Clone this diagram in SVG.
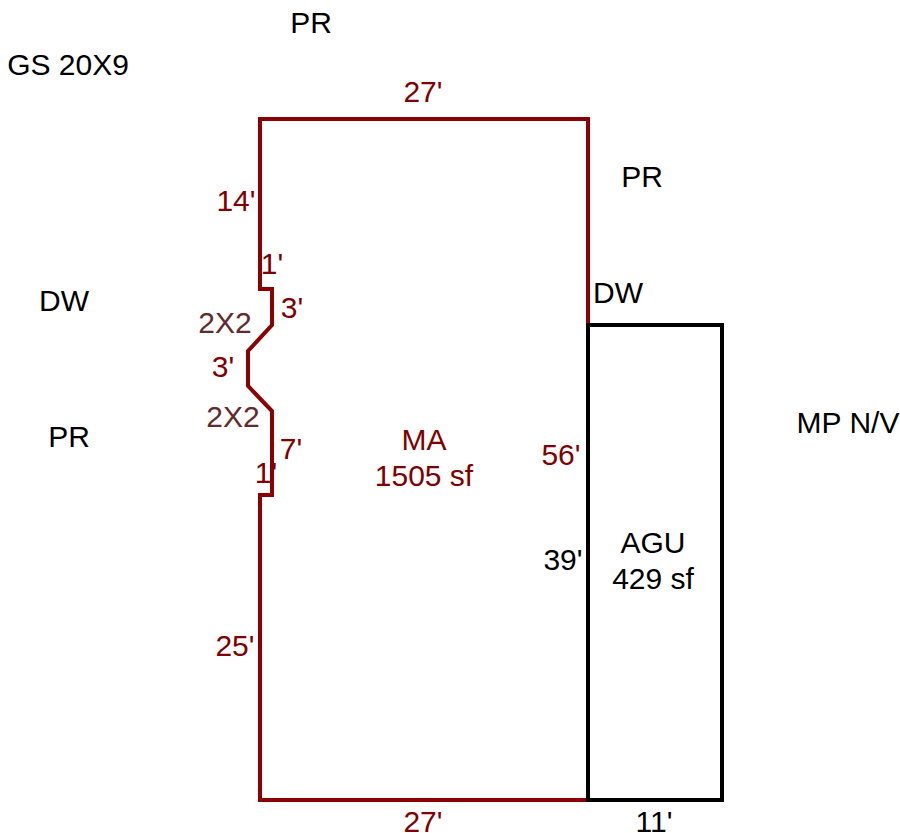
<svg xmlns="http://www.w3.org/2000/svg" width="900" height="833" viewBox="0 0 900 833">
<style>
text{font-family:"Liberation Sans",Arial,sans-serif;font-size:30px;text-anchor:middle}
.k{fill:#000}.r{fill:#800000}.b{fill:#632b2b}
.ln{fill:none;stroke-width:4}
</style>
<rect width="900" height="833" fill="#fff"/>
<g id="connectors">
<path id="ma" class="ln" stroke="#8b0000" d="M588 325V119H260V289H272V325L248 351V386L272 411V495H260V800H588"/>
<path id="agu" class="ln" stroke="#000" d="M588 325H722V800H588Z"/>
</g>
<g id="labels">
<text class="k" x="311" y="33">PR</text>
<text class="k" x="68" y="75">GS 20X9</text>
<text class="r" x="423" y="102">27'</text>
<text class="k" x="642" y="187">PR</text>
<text class="r" x="236" y="211">14'</text>
<text class="r" x="272" y="274">1'</text>
<text class="k" x="64" y="311">DW</text>
<text class="k" x="618" y="303">DW</text>
<text class="r" x="292" y="318">3'</text>
<text class="b" x="225" y="333">2X2</text>
<text class="r" x="223" y="377">3'</text>
<text class="b" x="233" y="427">2X2</text>
<text class="k" x="69" y="447">PR</text>
<text class="k" x="848" y="433">MP N/V</text>
<text class="r" x="291" y="459">7'</text>
<text class="r" x="266" y="483">1'</text>
<text class="r" x="424" y="450">MA</text>
<text class="r" x="424" y="486">1505 sf</text>
<text class="r" x="561" y="465">56'</text>
<text class="k" x="563" y="570">39'</text>
<text class="k" x="653" y="553">AGU</text>
<text class="k" x="653" y="589">429 sf</text>
<text class="r" x="235" y="656">25'</text>
<text class="r" x="423" y="832">27'</text>
<text class="k" x="654" y="832">11'</text>
</g>
</svg>
